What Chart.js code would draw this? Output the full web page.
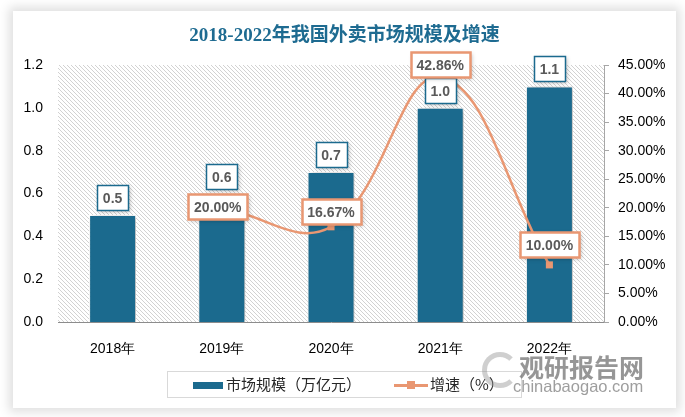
<!DOCTYPE html>
<html>
<head>
<meta charset="utf-8">
<script src="https://cdn.jsdelivr.net/npm/chart.js@4.4.0/dist/chart.umd.min.js"></script>
<style>
  html, body { margin: 0; padding: 0; background: #fff; }
  body { width: 685px; height: 417px; position: relative; overflow: hidden; font-family: "Noto Sans CJK SC", sans-serif; }
  #card { position: absolute; left: 13px; top: 11px; width: 663px; height: 397px; background: #fff;
          box-shadow: 0 0 10px 4px rgba(0,0,0,0.13); }
  #chart { position: absolute; left: 0; top: 0; }
  #legend { position: absolute; left: 154px; top: 360px; width: 353px; height: 25px; border: 1px solid #d9d9d9;
            font-size: 15px; color: #262626; }
  #legend .sw { position: absolute; left: 25px; top: 10px; width: 30px; height: 7px; background: #1b6a8e; }
  #legend .t1 { position: absolute; left: 58px; top: 1px; line-height: 22px; }
  #legend .ln { position: absolute; left: 226px; top: 12px; width: 34px; height: 3px; background: #e99772; }
  #legend .mk { position: absolute; left: 239px; top: 9px; width: 8px; height: 8px; background: #e99772; }
  #legend .t2 { position: absolute; left: 262px; top: 1px; line-height: 22px; }
  #wm1 { position: absolute; left: 519px; top: 348px; font: bold 25px "Noto Sans CJK SC", sans-serif; color: rgba(115,115,115,0.75); }
  #wm2 { position: absolute; left: 513px; top: 377px; font: 16.5px "Liberation Sans", sans-serif; color: rgba(125,125,125,0.75); }
  #logo { position: absolute; left: 482px; top: 352px; width: 26px; height: 26px; border-radius: 50%;
          border: 5px solid rgba(150,150,150,0.45); border-right-color: transparent; }
</style>
</head>
<body>
<div id="card">
  <canvas id="chart" width="663" height="397"></canvas>
  <div id="legend">
    <div class="sw"></div><div class="t1">市场规模（万亿元）</div>
    <div class="ln"></div><div class="mk"></div><div class="t2">增速（%）</div>
  </div>
</div>
<div id="logo"></div>
<div id="wm1">观研报告网</div>
<div id="wm2">chinabaogao.com</div>
<script>
// values
const years = ['2018年', '2019年', '2020年', '2021年', '2022年'];
const marketSize = [0.5, 0.6, 0.7, 1.0, 1.1];          // 万亿元
const growthRate = [null, 20.00, 16.67, 42.86, 10.00];   // %

const barColor = '#1b6a8e';
const lineColor = '#e99772';
const tickFont = { family: '"Liberation Sans", Arial, sans-serif', size: 14 };

// diagonal hatch for the plot background
const hatch = (() => {
  const c = document.createElement('canvas');
  c.width = 4; c.height = 4;
  const g = c.getContext('2d');
  g.fillStyle = '#fff';
  g.fillRect(0, 0, 4, 4);
  g.strokeStyle = '#d2d2d2';
  g.lineWidth = 1;
  g.beginPath();
  g.moveTo(-1, -1); g.lineTo(5, 5);
  g.moveTo(-1, 3); g.lineTo(1, 5);
  g.moveTo(3, -1); g.lineTo(5, 1);
  g.stroke();
  return c;
})();

const drawBox = (ctx, text, cx, cy, border, lw) => {
  ctx.save();
  ctx.font = 'bold 14px "Liberation Sans", Arial, sans-serif';
  const w = Math.round(ctx.measureText(text).width + 12);
  const h = 25;
  const x = Math.round(cx - w / 2) + 0.5, y = Math.round(cy - h / 2) + 0.5;
  ctx.shadowColor = 'rgba(0,0,0,0.25)';
  ctx.shadowBlur = 4;
  ctx.shadowOffsetX = 1;
  ctx.shadowOffsetY = 1;
  ctx.fillStyle = '#fff';
  ctx.fillRect(x, y, w, h);
  ctx.shadowColor = 'transparent';
  ctx.lineWidth = lw;
  ctx.strokeStyle = border;
  ctx.strokeRect(x, y, w, h);
  ctx.fillStyle = '#595959';
  ctx.textAlign = 'center';
  ctx.textBaseline = 'middle';
  ctx.fillText(text, cx, y + h / 2 + 1);
  ctx.restore();
};

// label placement for the growth line: null = centred on the point, number = gap above it
const lineLabelGap = [null, null, 3, 0, 8];

const decor = {
  id: 'decor',
  beforeDraw(chart) {
    const { ctx, chartArea: a } = chart;
    ctx.save();
    ctx.fillStyle = ctx.createPattern(hatch, 'repeat');
    ctx.fillRect(a.left, a.top, a.right - a.left, a.bottom - a.top);
    ctx.restore();
  },
  beforeDatasetDraw(chart, args) {
    if (args.meta.type !== 'bar') return;
    const ctx = chart.ctx;
    ctx.save();
    ctx.shadowColor = 'rgba(0,0,0,0.35)';
    ctx.shadowBlur = 5;
    ctx.shadowOffsetX = 2;
    ctx.shadowOffsetY = 1;
  },
  afterDatasetDraw(chart, args) {
    if (args.meta.type === 'bar') chart.ctx.restore();
  },
  afterDatasetsDraw(chart) {
    const ctx = chart.ctx;
    chart.getDatasetMeta(0).data.forEach((b, i) => {
      drawBox(ctx, marketSize[i].toFixed(1), b.x, b.y - 5 - 12.5, barColor, 1.5);
    });
    chart.getDatasetMeta(1).data.forEach((p, i) => {
      if (growthRate[i] == null) return;
      const gap = lineLabelGap[i];
      if (gap == null) drawBox(ctx, growthRate[i].toFixed(2) + '%', p.x - 4, p.y - 1, lineColor, 2.5);
      else drawBox(ctx, growthRate[i].toFixed(2) + '%', p.x, p.y - gap - 12.5, lineColor, 2.5);
    });
  }
};

new Chart(document.getElementById('chart'), {
  type: 'bar',
  data: {
    labels: years,
    datasets: [
      {
        label: '市场规模（万亿元）',
        data: marketSize,
        backgroundColor: barColor,
        borderColor: '#ffffff',
        borderWidth: 1,
        barPercentage: 0.43,
        categoryPercentage: 1,
        yAxisID: 'y',
        order: 2
      },
      {
        type: 'line',
        label: '增速（%）',
        data: growthRate,
        borderColor: lineColor,
        backgroundColor: lineColor,
        borderWidth: 2.5,
        tension: 0.4,
        pointStyle: 'rect',
        pointRadius: [0, 0, 5, 0, 5],
        pointBorderWidth: 0,
        yAxisID: 'y1',
        order: 1
      }
    ]
  },
  options: {
    responsive: false,
    animation: false,
    layout: { padding: 0 },
    plugins: {
      legend: { display: false },
      tooltip: { enabled: false },
      title: {
        display: true,
        text: '2018-2022年我国外卖市场规模及增速',
        color: '#1e6b91',
        font: { family: '"Liberation Serif", "Noto Sans CJK SC", serif', size: 19, weight: 'bold' },
        padding: { top: 13.6, bottom: 17.6 }
      }
    },
    scales: {
      x: {
        grid: { display: false, drawTicks: false },
        border: { display: true, color: '#8c8c8c', width: 1 },
        ticks: { color: '#000', font: tickFont, padding: 19 },
        afterFit: s => { s.height = 86; }
      },
      y: {
        position: 'left',
        min: 0, max: 1.2,
        grid: { display: false, drawTicks: false },
        border: { display: false },
        ticks: { stepSize: 0.2, color: '#000', font: tickFont, padding: 15,
                 callback: v => Number(v).toFixed(1) },
        afterFit: s => { s.width = 45; }
      },
      y1: {
        position: 'right',
        min: 0, max: 45,
        grid: { drawOnChartArea: false, drawTicks: true, tickLength: 5, color: '#a6a6a6' },
        border: { display: true, color: '#a6a6a6', width: 1 },
        ticks: { stepSize: 5, color: '#000', font: tickFont, padding: 9,
                 callback: v => Number(v).toFixed(2) + '%' },
        afterFit: s => { s.width = 72; }
      }
    }
  },
  plugins: [decor]
});
</script>
</body>
</html>
